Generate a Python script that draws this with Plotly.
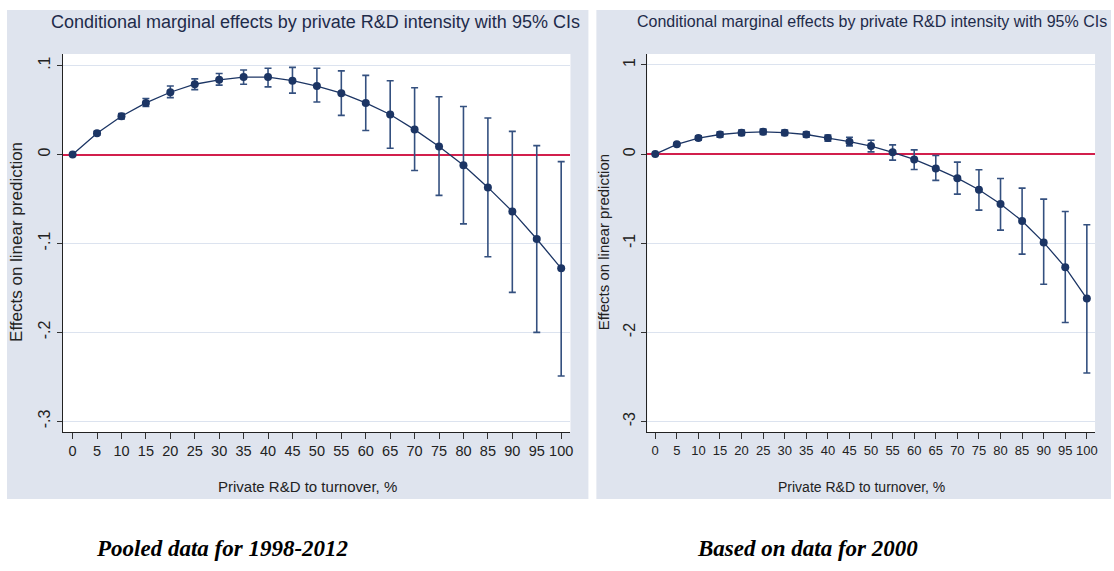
import plotly.graph_objects as go

# Private R&D to turnover, %
rd_share = [0, 5, 10, 15, 20, 25, 30, 35, 40, 45, 50,
            55, 60, 65, 70, 75, 80, 85, 90, 95, 100]

# Pooled data for 1998-2012: marginal effect and 95% CI bounds
pooled_effect = [0.0, 0.024, 0.043, 0.058, 0.070, 0.079, 0.084, 0.087, 0.087, 0.083, 0.077,
                 0.069, 0.058, 0.045, 0.028, 0.009, -0.012, -0.037, -0.064, -0.095, -0.128]
pooled_lower = [0.0, 0.022, 0.040, 0.054, 0.064, 0.073, 0.078, 0.079, 0.076, 0.069, 0.059,
                0.044, 0.027, 0.007, -0.018, -0.046, -0.078, -0.115, -0.155, -0.200, -0.249]
pooled_upper = [0.0, 0.026, 0.046, 0.063, 0.077, 0.085, 0.091, 0.095, 0.097, 0.098, 0.097,
                0.094, 0.089, 0.083, 0.075, 0.065, 0.054, 0.041, 0.026, 0.010, -0.008]

# Data for 2000: marginal effect and 95% CI bounds
y2000_effect = [0.0, 0.11, 0.18, 0.22, 0.24, 0.25, 0.24, 0.22, 0.18, 0.14, 0.09,
                0.02, -0.06, -0.16, -0.27, -0.40, -0.56, -0.75, -0.99, -1.27, -1.62]
y2000_lower = [0.0, 0.095, 0.155, 0.19, 0.21, 0.22, 0.21, 0.19, 0.145, 0.093, 0.025,
               -0.067, -0.172, -0.295, -0.449, -0.628, -0.853, -1.122, -1.459, -1.889, -2.455]
y2000_upper = [0.0, 0.125, 0.205, 0.25, 0.27, 0.28, 0.27, 0.25, 0.215, 0.19, 0.155,
               0.104, 0.048, -0.015, -0.09, -0.176, -0.273, -0.382, -0.505, -0.643, -0.793]

pooled_ticks = [-0.3, -0.2, -0.1, 0.0, 0.1]
pooled_ticktext = ["-.3", "-.2", "-.1", "0", ".1"]
y2000_ticks = [-3, -2, -1, 0, 1]
y2000_ticktext = ["-3", "-2", "-1", "0", "1"]
x_ticks = rd_share

TITLE = "Conditional marginal effects by private R&D intensity with 95% CIs"
Y_TITLE = "Effects on linear prediction"
X_TITLE = "Private R&D to turnover, %"
CAPTIONS = ["Pooled data for 1998-2012", "Based on data for 2000"]

W, H = 1114, 571
NAVY = "#1C3564"
BAR = "#34507F"
RED = "#D21F4C"
PANEL = "#DFE4EE"
GRID = "#DCE3EF"
TEXT = "#1E2B4A"
SANS = "Liberation Sans, Arial, sans-serif"
SERIF = "Liberation Serif, Times New Roman, serif"


def px(x):
    return x / W


def py(y):
    return 1 - y / H


def series(x, est, lo, hi, xa, ya):
    return go.Scatter(
        x=x, y=est, mode="lines+markers", xaxis=xa, yaxis=ya,
        line=dict(color=NAVY, width=1.3),
        marker=dict(color=NAVY, size=8, symbol="circle"),
        error_y=dict(type="data", symmetric=False,
                     array=[h - e for h, e in zip(hi, est)],
                     arrayminus=[e - l for e, l in zip(est, lo)],
                     color=BAR, thickness=1.6, width=3.5),
        showlegend=False, hoverinfo="skip",
    )


fig = go.Figure()
fig.add_trace(series(rd_share, pooled_effect, pooled_lower, pooled_upper, "x", "y"))
fig.add_trace(series(rd_share, y2000_effect, y2000_lower, y2000_upper, "x2", "y2"))


def x_axis(font_size):
    return dict(
        tickmode="array", tickvals=x_ticks, ticktext=[str(v) for v in x_ticks],
        ticks="outside", ticklen=6, tickcolor="#333", tickwidth=1, tickangle=0,
        showline=True, linecolor="#222", linewidth=1,
        showgrid=False, zeroline=False,
        tickfont=dict(family=SANS, size=font_size, color="#222"),
    )


common_y = dict(
    tickmode="array", ticks="outside", ticklen=5, tickcolor="#333", tickwidth=1,
    showline=True, linecolor="#222", linewidth=1,
    showgrid=True, gridcolor=GRID, gridwidth=1,
    zeroline=True, zerolinecolor=RED, zerolinewidth=1.6,
    tickangle=-90,
    tickfont=dict(family=SANS, size=16, color="#222"),
)

plot_top, plot_bottom = 54, 432
fig.update_layout(
    width=W, height=H,
    margin=dict(l=0, r=0, t=0, b=0),
    paper_bgcolor="white", plot_bgcolor="white",
    xaxis=dict(domain=[px(63), px(572)], range=[-2.0, 101.9], anchor="y", **x_axis(14.5)),
    yaxis=dict(domain=[py(plot_bottom), py(plot_top)], range=[-0.312, 0.113], anchor="x",
               tickvals=pooled_ticks, ticktext=pooled_ticktext, **common_y),
    xaxis2=dict(domain=[px(649), px(1098)], range=[-1.85, 101.9], anchor="y2", **x_axis(13)),
    yaxis2=dict(domain=[py(plot_bottom), py(plot_top)], range=[-3.117, 1.123], anchor="x2",
                tickvals=y2000_ticks, ticktext=y2000_ticktext, **common_y),
)

# graph-region backgrounds behind each panel
for x0, x1 in [(7, 590), (598, 1114)]:
    fig.add_shape(type="rect", xref="paper", yref="paper",
                  x0=px(x0), x1=px(x1), y0=py(499), y1=py(10),
                  fillcolor=PANEL, line=dict(width=0), layer="below")
for x0, x1 in [(63, 572), (649, 1098)]:
    fig.add_shape(type="rect", xref="paper", yref="paper",
                  x0=px(x0), x1=px(x1), y0=py(plot_bottom), y1=py(plot_top),
                  fillcolor="white", line=dict(width=0), layer="below")


def note(text, x, y, size, family=SANS, color=TEXT, angle=0):
    fig.add_annotation(text=text, x=px(x), y=py(y), xref="paper", yref="paper",
                       xanchor="center", yanchor="middle", showarrow=False,
                       textangle=angle, font=dict(family=family, size=size, color=color))


# panel titles
note(TITLE, 316, 22, 18)
note(TITLE, 874, 22, 16)
# axis titles
note(Y_TITLE, 16, 242, 17, color="#222", angle=-90)
note(Y_TITLE, 605, 242, 15, color="#222", angle=-90)
note(X_TITLE, 308, 486, 15, color="#222")
note(X_TITLE, 864, 487, 14, color="#222")
# captions under the panels
note("<b><i>" + CAPTIONS[0] + "</i></b>", 223, 548, 23, family=SERIF, color="black")
note("<b><i>" + CAPTIONS[1] + "</i></b>", 810, 548, 23, family=SERIF, color="black")

fig.write_html("out.html")
